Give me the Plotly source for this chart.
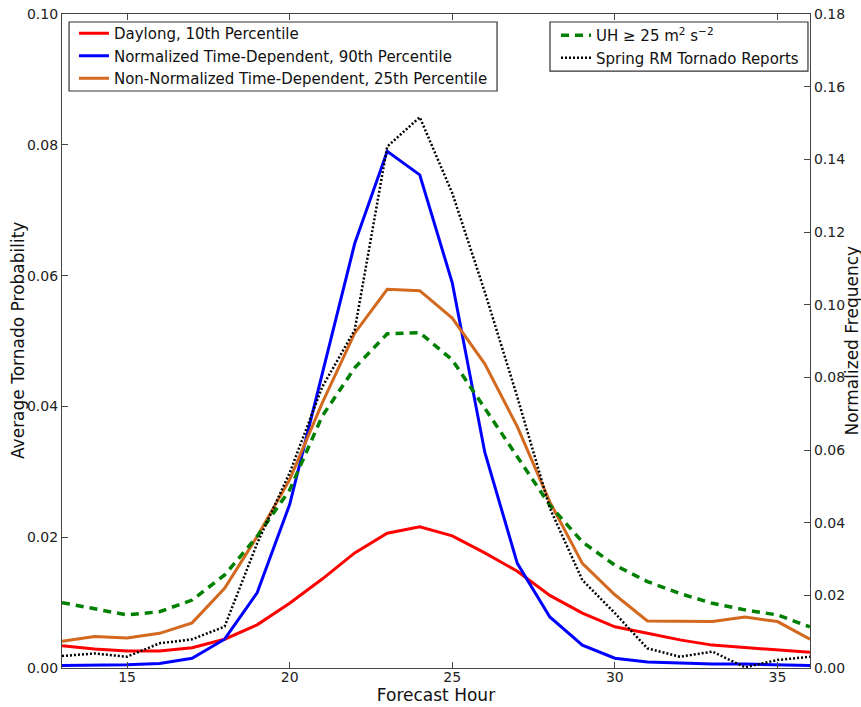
import plotly.graph_objects as go

hours = list(range(13, 37))

daylong_10 = [0.0034, 0.0029, 0.0026, 0.0026, 0.0031, 0.0044, 0.0066, 0.0099, 0.0136, 0.0176,
              0.0206, 0.0216, 0.0202, 0.0176, 0.0148, 0.0111, 0.0084, 0.0063, 0.0053, 0.0043,
              0.0035, 0.0031, 0.0027, 0.0024]
norm_td_90 = [0.0004, 0.0004, 0.0005, 0.0007, 0.0015, 0.0044, 0.0115, 0.0250, 0.0448, 0.0649,
              0.0790, 0.0754, 0.0589, 0.0330, 0.0160, 0.0078, 0.0035, 0.0015, 0.0009, 0.0007,
              0.0006, 0.0006, 0.0005, 0.0004]
nonnorm_td_25 = [0.0041, 0.0048, 0.0046, 0.0053, 0.0069, 0.0122, 0.0201, 0.0288, 0.0405, 0.0512,
                 0.0579, 0.0577, 0.0535, 0.0465, 0.0369, 0.0254, 0.0160, 0.0112, 0.0072, 0.0072,
                 0.0071, 0.0078, 0.0071, 0.0044]
uh_25 = [0.0180, 0.0162, 0.0146, 0.0155, 0.0187, 0.0256, 0.0362, 0.0490, 0.0693, 0.0826,
         0.0920, 0.0923, 0.0848, 0.0715, 0.0581, 0.0448, 0.0347, 0.0283, 0.0238, 0.0205,
         0.0178, 0.0160, 0.0146, 0.0113]
tornado_reports = [0.0033, 0.0040, 0.0031, 0.0068, 0.0079, 0.0114, 0.0343, 0.0537, 0.0773, 0.0930,
                   0.1435, 0.1516, 0.1307, 0.1035, 0.0746, 0.0440, 0.0242, 0.0151, 0.0054, 0.0031,
                   0.0045, 0.0002, 0.0022, 0.0031]

x_ticks = [15, 20, 25, 30, 35]

FONT = "DejaVu Sans"
fig = go.Figure()

fig.add_trace(go.Scatter(x=hours, y=daylong_10, mode="lines", name="Daylong, 10th Percentile",
                         line=dict(color="#ff0000", width=3), legend="legend"))
fig.add_trace(go.Scatter(x=hours, y=norm_td_90, mode="lines",
                         name="Normalized Time-Dependent, 90th Percentile",
                         line=dict(color="#0000ff", width=3), legend="legend"))
fig.add_trace(go.Scatter(x=hours, y=nonnorm_td_25, mode="lines",
                         name="Non-Normalized Time-Dependent, 25th Percentile",
                         line=dict(color="#d2691e", width=3), legend="legend"))
fig.add_trace(go.Scatter(x=hours, y=uh_25, mode="lines", yaxis="y2",
                         name="UH \u2265 25 m<sup>2</sup> s<sup>\u22122</sup>",
                         line=dict(color="#008000", width=3.5, dash="8px,6px"), legend="legend2"))
fig.add_trace(go.Scatter(x=hours, y=tornado_reports, mode="lines", yaxis="y2",
                         name="Spring RM Tornado Reports",
                         line=dict(color="#000000", width=2.5, dash="2px,2px"), legend="legend2"))

axis_common = dict(showline=True, linecolor="#444444", linewidth=1.2, ticks="inside",
                   ticklen=6, tickcolor="#444444", showgrid=False, zeroline=False,
                   automargin=False, ticklabeloverflow="allow",
                   tickfont=dict(family=FONT, size=14, color="#222222"))

# legend frames (matplotlib-style boxes)
fig.add_shape(type="rect", xref="paper", yref="paper", x0=0.0094, x1=0.5816, y0=0.8823, y1=0.9878,
              line=dict(color="#333333", width=1.2), fillcolor="white", layer="above")
fig.add_shape(type="rect", xref="paper", yref="paper", x0=0.6524, x1=0.9973, y0=0.9128, y1=0.9878,
              line=dict(color="#333333", width=1.2), fillcolor="white", layer="above")

fig.add_annotation(text="Average Tornado Probability", xref="paper", yref="paper", x=-0.0588, y=0.5,
                   textangle=-90, showarrow=False, font=dict(family=FONT, size=17, color="#111111"),
                   xanchor="center", yanchor="middle")
fig.add_annotation(text="Normalized Frequency", xref="paper", yref="paper", x=1.0555, y=0.5,
                   textangle=-90, showarrow=False, font=dict(family=FONT, size=17, color="#111111"),
                   xanchor="center", yanchor="middle")

fig.update_layout(
    width=861, height=707,
    margin=dict(l=62, r=51, t=14, b=39, autoexpand=False),
    paper_bgcolor="white", plot_bgcolor="white",
    font=dict(family=FONT, size=15, color="#111111"),
    xaxis=dict(range=[13, 36], tickvals=x_ticks, mirror="ticks", ticklabelstandoff=-4,
               title=dict(text="Forecast Hour", font=dict(family=FONT, size=17), standoff=4),
               **axis_common),
    yaxis=dict(range=[0, 0.10], dtick=0.02, tickformat=".2f", **axis_common),
    yaxis2=dict(range=[0, 0.18], dtick=0.02, tickformat=".2f", overlaying="y", side="right",
                **axis_common),
    legend=dict(x=0.016, y=0.9954, xanchor="left", yanchor="top",
                bgcolor="rgba(0,0,0,0)", borderwidth=0,
                font=dict(family=FONT, size=15), tracegroupgap=0, itemwidth=30),
    legend2=dict(x=0.6604, y=0.9924, xanchor="left", yanchor="top",
                 bgcolor="rgba(0,0,0,0)", borderwidth=0,
                 font=dict(family=FONT, size=15), tracegroupgap=0, itemwidth=30),
)

fig.write_html("out.html", config={"displayModeBar": False},
               post_script="document.body.style.margin='0';")
